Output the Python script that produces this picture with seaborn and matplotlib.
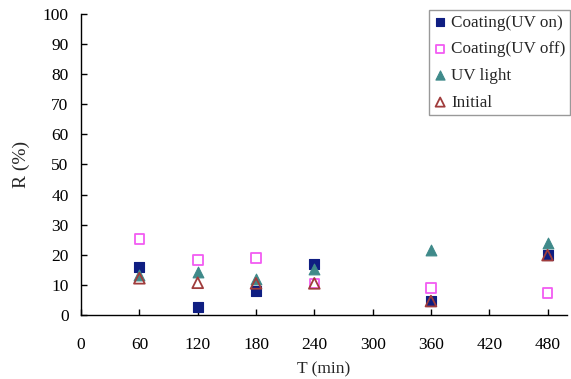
import matplotlib
matplotlib.use("Agg")
import matplotlib.pyplot as plt
import seaborn as sns
import pandas as pd

sns.set_style("ticks")
plt.rcParams['font.family'] = ['Liberation Serif', 'DejaVu Serif']

times = [60, 120, 180, 240, 360, 480]
uv_on = [15.9, 2.4, 7.8, 16.8, 4.4, 19.7]
uv_off = [25.2, 18.2, 18.9, 10.4, 8.8, 7.2]
uv_light = [13.2, 14.3, 11.7, 15.3, 21.5, 23.7]
initial = [12.1, 10.6, 10.4, 10.4, 4.5, 19.8]

series = [
    ("Coating(UV on)", uv_on, "s", "#0f1e82", True, 48),
    ("Coating(UV off)", uv_off, "s", "#f25cf2", False, 48),
    ("UV light", uv_light, "^", "#3f8a8a", True, 60),
    ("Initial", initial, "^", "#a03c3c", False, 60),
]

fig = plt.figure(figsize=(5.71, 3.79), dpi=100)
ax = fig.add_axes([0.142, 0.170, 0.851, 0.792])

for label, vals, mk, col, filled, size in series:
    df = pd.DataFrame({"T": times, "R": vals})
    if filled:
        sns.scatterplot(data=df, x="T", y="R", ax=ax, marker=mk, color=col,
                        s=size, edgecolor=col, linewidth=0.8, label=label, zorder=3)
    else:
        sns.scatterplot(data=df, x="T", y="R", ax=ax, marker=mk, facecolor="none",
                        s=size, edgecolor=col, linewidth=1.3, label=label, zorder=3)

ax.set_xlim(0, 500)
ax.set_ylim(0, 100)
ax.set_xticks(range(0, 481, 60))
ax.set_yticks(range(0, 101, 10))
ax.tick_params(direction="in", length=4, width=1, labelsize=12.5, colors="black")
ax.tick_params(axis="x", pad=16)
ax.tick_params(axis="y", pad=9)
ax.set_xlabel("T (min)", fontsize=12.5, labelpad=6)
ax.set_ylabel("R (%)", fontsize=14, labelpad=9)
sns.despine(ax=ax)
for s in ["left", "bottom"]:
    ax.spines[s].set_linewidth(1)
    ax.spines[s].set_color("black")

leg = ax.legend(loc="upper right", bbox_to_anchor=(0.999, 1 - 10 / 379), bbox_transform=fig.transFigure,
                fontsize=12.3, frameon=True, fancybox=False, edgecolor="#808080",
                handletextpad=0.3, handlelength=0.7, borderpad=0.28, labelspacing=0.62,
                borderaxespad=0, markerscale=0.85)
leg.get_frame().set_linewidth(1)

fig.savefig("out.png", dpi=100)
